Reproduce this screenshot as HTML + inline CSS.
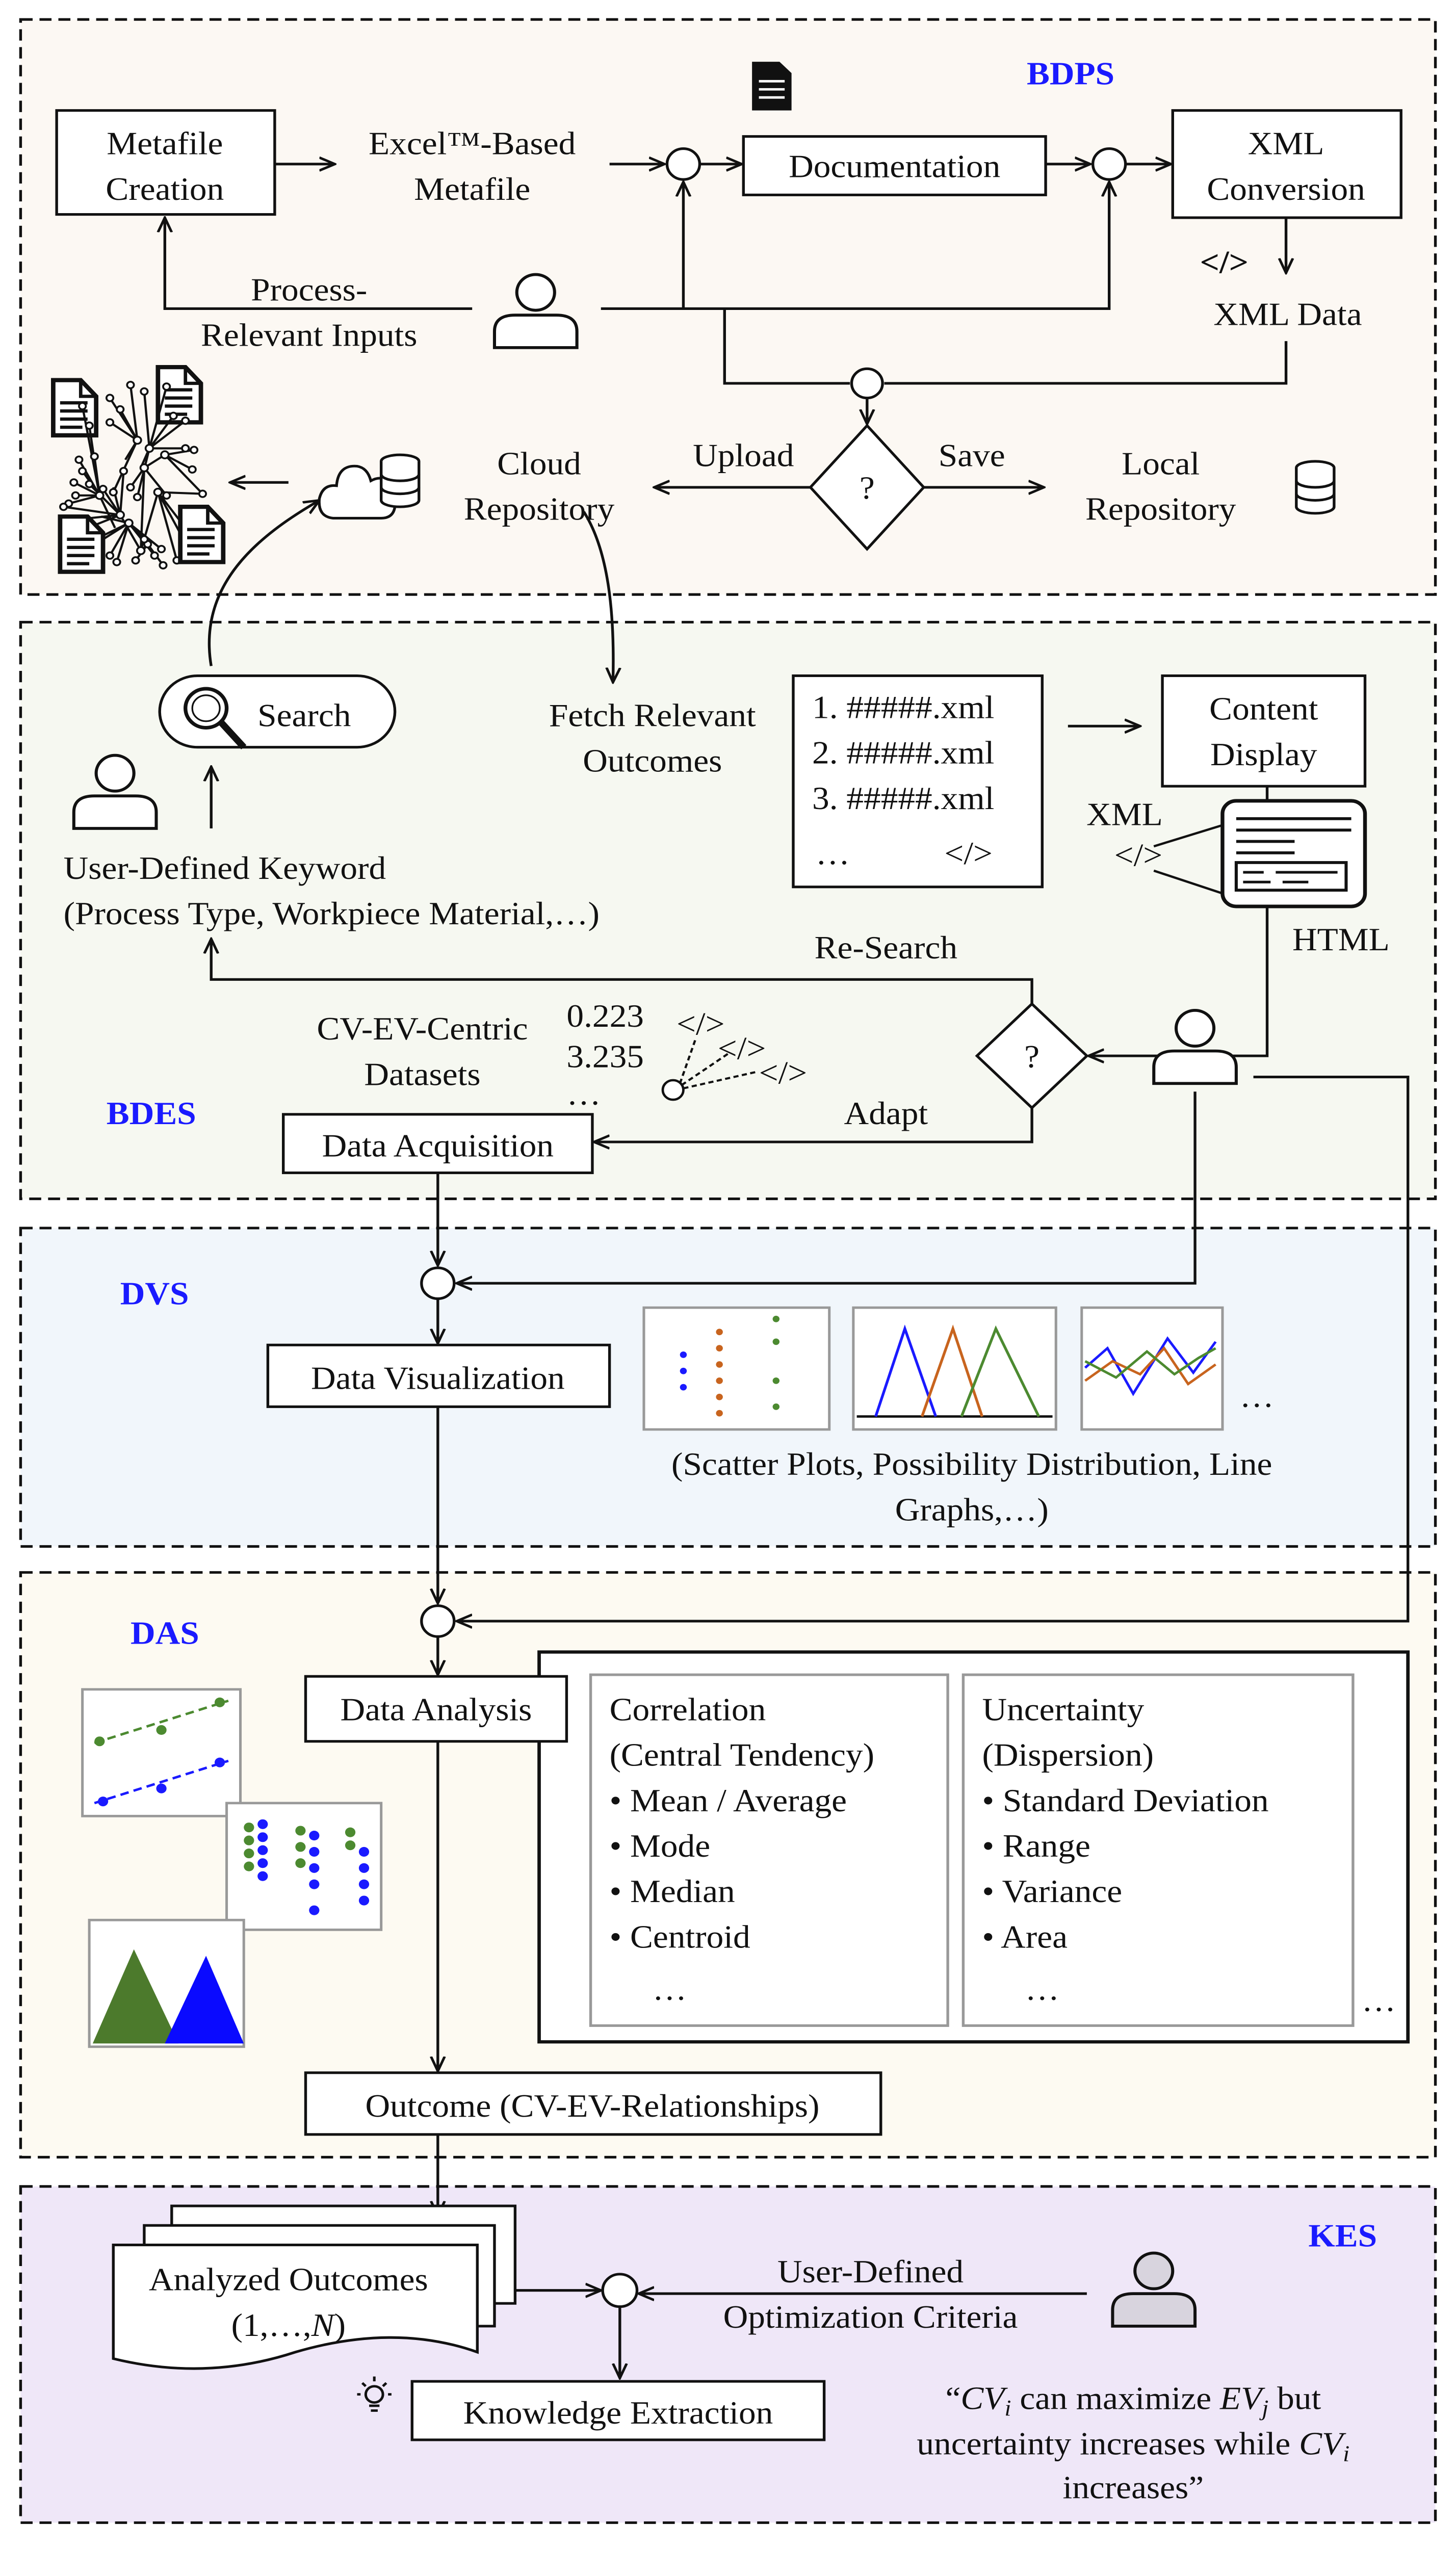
<!DOCTYPE html>
<html><head><meta charset="utf-8"><style>
html,body{margin:0;padding:0;background:#fff;overflow:hidden;}
#wrap{position:fixed;left:0;top:0;width:100%;height:100%;}
svg{display:block;width:100%;height:100%;}
text{font-family:"Liberation Serif",serif;font-size:20px;fill:#111;}
.c{text-anchor:middle;}
.t{font-weight:bold;fill:#1a1aff;font-size:20px;}
</style></head><body><div id="wrap">
<svg viewBox="0 0 848 1569.2" preserveAspectRatio="none" xmlns="http://www.w3.org/2000/svg">
<defs>
<marker id="a" markerWidth="10" markerHeight="10" refX="9" refY="5" orient="auto" markerUnits="userSpaceOnUse"><path d="M0,1 L9,5 L0,9" fill="none" stroke="#111" stroke-width="1.5"/></marker>
<g id="person"><circle cx="0" cy="-12" r="11" fill="#fff" stroke="#111" stroke-width="1.8"/><path d="M-24,22 L-24,12 Q-24,2 -12,2 L12,2 Q24,2 24,12 L24,22 Z" fill="#fff" stroke="#111" stroke-width="1.8"/></g>
<g id="db"><ellipse cx="0" cy="-12" rx="11" ry="4" fill="#fff" stroke="#111" stroke-width="1.6"/><path d="M-11,-12 V12 A11,4 0 0 0 11,12 V-12" fill="#fff" stroke="#111" stroke-width="1.6"/><path d="M-11,-4 A11,4 0 0 0 11,-4 M-11,4 A11,4 0 0 0 11,4" fill="none" stroke="#111" stroke-width="1.6"/></g>
<g id="doc"><path d="M0,0 H16 L25,10 V34 H0 Z" fill="#fff" stroke="#111" stroke-width="2.6"/><path d="M16,0 V10 H25" fill="none" stroke="#111" stroke-width="2"/><path d="M4,14 H20 M4,19 H20 M4,24 H20 M4,29 H17" stroke="#111" stroke-width="2"/></g>
</defs>
<g stroke="#111" stroke-width="1.6" fill="none">
<rect x="12" y="12" width="824" height="354" fill="#fcf8f3" stroke-dasharray="7,4"/>
<rect x="12" y="383" width="824" height="355" fill="#f6f8f1" stroke-dasharray="7,4"/>
<rect x="12" y="756" width="824" height="196" fill="#f1f6fb" stroke-dasharray="7,4"/>
<rect x="12" y="968" width="824" height="360" fill="#fdfaf2" stroke-dasharray="7,4"/>
<rect x="12" y="1346" width="824" height="207" fill="#efe7f8" stroke-dasharray="7,4"/>
</g>
<text class="t" x="598" y="52">BDPS</text>
<text class="t" x="62" y="692">BDES</text>
<text class="t" x="70" y="803">DVS</text>
<text class="t" x="76" y="1012">DAS</text>
<text class="t" x="762" y="1383">KES</text>

<g stroke="#111" stroke-width="1.6" fill="#fff">
<rect x="33" y="68" width="127" height="64"/>
<rect x="433" y="84" width="176" height="36"/>
<rect x="683" y="68" width="133" height="66"/>
<circle cx="398" cy="101" r="9.5"/>
<circle cx="646" cy="101" r="9.5"/>
<circle cx="505" cy="236" r="9"/>
<polygon points="505,262 538,300 505,338 472,300"/>
</g>
<g stroke="#111" stroke-width="1.6" fill="none" marker-end="url(#a)">
<path d="M160,101 H195"/>
<path d="M355,101 H387"/>
<path d="M408,101 H432"/>
<path d="M609,101 H635"/>
<path d="M656,101 H682"/>
<path d="M749,134 V168"/>
<path d="M275,190 H96 V134"/>
<path d="M350,190 H646 V112"/>
<path d="M398,190 V112"/>
<path d="M505,245 V261"/>
<path d="M472,300 H381"/>
<path d="M538,300 H608"/>
<path d="M168,297 H134"/>
<path d="M123,410 C115,360 150,330 186,308"/>
<path d="M340,315 C355,340 358,380 357,420"/>
</g>
<g stroke="#111" stroke-width="1.6" fill="none">
<path d="M422,190 V236 H495"/>
<path d="M749,210 V236 H515"/>
</g>
<text class="c" x="96" y="95">Metafile</text><text class="c" x="96" y="123">Creation</text>
<text class="c" x="275" y="95">Excel™-Based</text><text class="c" x="275" y="123">Metafile</text>
<text class="c" x="521" y="109">Documentation</text>
<text class="c" x="749" y="95">XML</text><text class="c" x="749" y="123">Conversion</text>
<text class="c" x="713" y="168" style="font-weight:bold">&lt;/&gt;</text>
<text class="c" x="750" y="200">XML Data</text>
<text class="c" x="180" y="185">Process-</text><text class="c" x="180" y="213">Relevant Inputs</text>
<text class="c" x="505" y="307">?</text>
<text class="c" x="433" y="287">Upload</text><text class="c" x="566" y="287">Save</text>
<text class="c" x="314" y="292">Cloud</text><text class="c" x="314" y="320">Repository</text>
<text class="c" x="676" y="292">Local</text><text class="c" x="676" y="320">Repository</text>
<use href="#person" x="312" y="192"/>
<use href="#db" x="766" y="300"/>
<path d="M194,319 Q185,318 186,307 Q188,298 196,299 Q197,286 208,287 Q214,288 216,296 Q223,292 228,298 Q232,305 230,312 Q229,319 222,319 Z" fill="#fff" stroke="#111" stroke-width="1.6"/>
<use href="#db" x="233" y="296"/>
<g><path d="M438,38 H454 L461,45 V68 H438 Z" fill="#111"/><path d="M442,50 H457 M442,55 H457 M442,60 H457" stroke="#fff" stroke-width="1.5"/></g>
<!-- network icon -->
<use href="#doc" x="31" y="234"/><use href="#doc" x="92" y="226"/>
<g stroke="#111" stroke-width="1.3" fill="none">
<path d="M80,271 L70,252 M80,271 L76,237 M80,271 L64,245 M80,271 L64,260 M80,271 L73,283 M80,271 L66,303"/>
<path d="M87,276 L84,241 M87,276 L97,238 M87,276 L101,256 M87,276 L108,259 M87,276 L108,276 M87,276 L82,288 M87,276 L80,306"/>
<path d="M58,305 L46,283 M58,305 L48,290 M58,305 L43,297 M58,305 L44,305 M58,305 L40,310 M58,305 L55,281 M58,305 L52,262 M58,305 L48,250 M58,305 L67,325"/>
<path d="M96,280 L113,277 M96,280 L112,289 M96,280 L84,288 M96,280 L118,304"/>
<path d="M84,288 L97,305 M84,288 L82,339 M84,288 L76,300"/>
<path d="M92,303 L118,304 M92,303 L112,342 M92,303 L103,345 M92,303 L108,325 M92,303 L82,339"/>
<path d="M70,317 L60,301 M70,317 L66,300 M70,317 L52,298 M70,317 L43,320 M70,317 L37,312 M70,317 L44,328 M70,317 L82,339 M70,317 L72,290"/>
<path d="M75,322 L57,334 M75,322 L64,342 M75,322 L68,346 M75,322 L84,332 M75,322 L90,342 M75,322 L94,338 M75,322 L40,340 M75,322 L59,318"/>
<path d="M86,335 L79,345 M86,335 L95,348 M86,335 L82,339"/>
</g>
<g fill="#fff" stroke="#111" stroke-width="1.1">
<circle cx="80" cy="271" r="2.2"/><circle cx="87" cy="276" r="2.2"/><circle cx="58" cy="305" r="2.2"/><circle cx="96" cy="280" r="2.2"/><circle cx="84" cy="288" r="2.2"/><circle cx="92" cy="303" r="2.2"/><circle cx="70" cy="317" r="2.2"/><circle cx="75" cy="322" r="2.2"/><circle cx="82" cy="339" r="2.2"/><circle cx="86" cy="335" r="2"/>
<circle cx="70" cy="252" r="2"/><circle cx="76" cy="237" r="2"/><circle cx="64" cy="245" r="2"/><circle cx="64" cy="260" r="2"/><circle cx="66" cy="303" r="2"/>
<circle cx="84" cy="241" r="2"/><circle cx="97" cy="238" r="2"/><circle cx="101" cy="256" r="2"/><circle cx="108" cy="259" r="2"/><circle cx="108" cy="276" r="2"/><circle cx="80" cy="306" r="2"/>
<circle cx="46" cy="283" r="2"/><circle cx="48" cy="290" r="2"/><circle cx="43" cy="297" r="2"/><circle cx="44" cy="305" r="2"/><circle cx="40" cy="310" r="2"/><circle cx="55" cy="281" r="2"/><circle cx="52" cy="262" r="2"/><circle cx="48" cy="250" r="2"/>
<circle cx="113" cy="277" r="2"/><circle cx="112" cy="289" r="2"/><circle cx="118" cy="304" r="2"/><circle cx="97" cy="305" r="2"/><circle cx="76" cy="300" r="2"/>
<circle cx="112" cy="342" r="2"/><circle cx="103" cy="345" r="2"/><circle cx="108" cy="325" r="2"/>
<circle cx="60" cy="301" r="2"/><circle cx="52" cy="298" r="2"/><circle cx="43" cy="320" r="2"/><circle cx="37" cy="312" r="2"/><circle cx="44" cy="328" r="2"/><circle cx="72" cy="290" r="2"/>
<circle cx="57" cy="334" r="2"/><circle cx="64" cy="342" r="2"/><circle cx="68" cy="346" r="2"/><circle cx="84" cy="332" r="2"/><circle cx="90" cy="342" r="2"/><circle cx="94" cy="338" r="2"/><circle cx="40" cy="340" r="2"/><circle cx="79" cy="345" r="2"/><circle cx="95" cy="348" r="2"/>
</g>
<use href="#doc" x="35" y="318"/><use href="#doc" x="105" y="312"/>

<!-- BDES -->
<use href="#person" x="67" y="488"/>
<rect x="93" y="416" width="137" height="44" rx="22" fill="#fff" stroke="#111" stroke-width="1.6"/>
<circle cx="120" cy="436" r="12" fill="#fff" stroke="#111" stroke-width="2.2"/><circle cx="120" cy="436" r="8" fill="none" stroke="#111" stroke-width="1"/>
<path d="M129,445 L142,460" stroke="#111" stroke-width="4"/>
<text x="150" y="447">Search</text>
<g stroke="#111" stroke-width="1.6" fill="none" marker-end="url(#a)">
<path d="M123,510 V472"/>
<path d="M622,447 H664"/>
<path d="M738,558 V650 H634"/>
<path d="M601,618 V603 H123 V578"/>
<path d="M601,682 V703 H346"/>
<path d="M255,722 V779"/>
<path d="M730,663 H820 V998 H266"/>
<path d="M696,672 V790 H266"/>
<path d="M255,800 V827"/>
<path d="M255,866 V987"/>
<path d="M255,1008 V1031"/>
<path d="M255,1072 V1275"/>
<path d="M255,1314 V1364"/>
<path d="M295,1410 H350"/>
<path d="M633,1412 H372"/>
<path d="M361,1420 V1464"/>
</g>
<path d="M738,484 V493" stroke="#111" stroke-width="1.6"/>
<text x="37" y="541">User-Defined Keyword</text>
<text x="37" y="569">(Process Type, Workpiece Material,…)</text>
<text class="c" x="380" y="447">Fetch Relevant</text><text class="c" x="380" y="475">Outcomes</text>
<rect x="462" y="416" width="145" height="130" fill="#fff" stroke="#111" stroke-width="1.6"/>
<text x="473" y="442">1. #####.xml</text><text x="473" y="470">2. #####.xml</text><text x="473" y="498">3. #####.xml</text>
<text x="475" y="532">…</text><text x="550" y="532">&lt;/&gt;</text>
<rect x="677" y="416" width="118" height="68" fill="#fff" stroke="#111" stroke-width="1.6"/>
<text class="c" x="736" y="443">Content</text><text class="c" x="736" y="471">Display</text>
<rect x="712" y="493" width="83" height="65" rx="8" fill="#fff" stroke="#111" stroke-width="2.2"/>
<path d="M720,504 H787 M720,511 H787 M720,518 H754 M720,525 H754" stroke="#111" stroke-width="1.8"/>
<rect x="720" y="531" width="64" height="17" fill="none" stroke="#111" stroke-width="1.8"/><path d="M724,537 H736 M743,537 H779 M724,543 H740 M747,543 H762" stroke="#111" stroke-width="1.6"/>
<path d="M672,521 L712,508 M672,536 L712,550" stroke="#111" stroke-width="1.4"/>
<text class="c" x="655" y="508">XML</text><text class="c" x="663" y="533">&lt;/&gt;</text>
<text class="c" x="781" y="585">HTML</text>
<polygon points="601,618 633,650 601,682 569,650" fill="#fff" stroke="#111" stroke-width="1.6"/>
<text class="c" x="601" y="657">?</text>
<text class="c" x="516" y="590">Re-Search</text><text class="c" x="516" y="692">Adapt</text>
<use href="#person" x="696" y="645"/>
<rect x="165" y="686" width="180" height="36" fill="#fff" stroke="#111" stroke-width="1.6"/>
<text class="c" x="255" y="712">Data Acquisition</text>
<text class="c" x="246" y="640">CV-EV-Centric</text><text class="c" x="246" y="668">Datasets</text>
<text x="330" y="632">0.223</text><text x="330" y="657">3.235</text><text x="330" y="680">…</text>
<text x="394" y="637">&lt;/&gt;</text><text x="418" y="652">&lt;/&gt;</text><text x="442" y="667">&lt;/&gt;</text>
<circle cx="392" cy="671" r="6" fill="#fff" stroke="#111" stroke-width="1.4"/>
<path d="M396,667 L405,640 M397,668 L425,648 M398,670 L440,660" stroke="#111" stroke-width="1.3" stroke-dasharray="3,2"/>

<!-- DVS -->
<circle cx="255" cy="790" r="9.5" fill="#fff" stroke="#111" stroke-width="1.6"/>
<rect x="156" y="828" width="199" height="38" fill="#fff" stroke="#111" stroke-width="1.6"/>
<text class="c" x="255" y="855">Data Visualization</text>
<rect x="375" y="805" width="108" height="75" fill="#fff" stroke="#999" stroke-width="1.5"/>
<g fill="#1a1aff"><circle cx="398" cy="834" r="2"/><circle cx="398" cy="844" r="2"/><circle cx="398" cy="854" r="2"/></g>
<g fill="#c8641e"><circle cx="419" cy="820" r="2"/><circle cx="419" cy="830" r="2"/><circle cx="419" cy="840" r="2"/><circle cx="419" cy="850" r="2"/><circle cx="419" cy="860" r="2"/><circle cx="419" cy="870" r="2"/></g>
<g fill="#4c8a30"><circle cx="452" cy="812" r="2"/><circle cx="452" cy="826" r="2"/><circle cx="452" cy="850" r="2"/><circle cx="452" cy="866" r="2"/></g>
<rect x="497" y="805" width="118" height="75" fill="#fff" stroke="#999" stroke-width="1.5"/>
<path d="M499,872 H613" stroke="#111" stroke-width="1.5"/>
<path d="M510,872 L527,818 L545,872" stroke="#1a1aff" stroke-width="1.6" fill="none"/>
<path d="M537,872 L555,818 L572,872" stroke="#c8641e" stroke-width="1.6" fill="none"/>
<path d="M560,872 L580,818 L605,872" stroke="#4c8a30" stroke-width="1.6" fill="none"/>
<rect x="630" y="805" width="82" height="75" fill="#fff" stroke="#999" stroke-width="1.5"/>
<path d="M632,842 L645,830 L660,858 L680,824 L695,845 L708,826" stroke="#1a1aff" stroke-width="1.5" fill="none"/>
<path d="M632,850 L648,838 L664,846 L678,830 L692,852 L708,840" stroke="#c8641e" stroke-width="1.5" fill="none"/>
<path d="M632,838 L650,848 L668,832 L684,846 L698,836 L708,830" stroke="#4c8a30" stroke-width="1.5" fill="none"/>
<text x="722" y="866">…</text>
<text class="c" x="566" y="908">(Scatter Plots, Possibility Distribution, Line</text>
<text class="c" x="566" y="936">Graphs,…)</text>

<!-- DAS -->
<circle cx="255" cy="998" r="9.5" fill="#fff" stroke="#111" stroke-width="1.6"/>
<rect x="314" y="1017" width="506" height="240" fill="#fff" stroke="#111" stroke-width="2"/>
<rect x="178" y="1032" width="152" height="40" fill="#fff" stroke="#111" stroke-width="1.6"/>
<text class="c" x="254" y="1059">Data Analysis</text>
<rect x="344" y="1031" width="208" height="216" fill="#fff" stroke="#999" stroke-width="1.6"/>
<rect x="561" y="1031" width="227" height="216" fill="#fff" stroke="#999" stroke-width="1.6"/>
<text x="355" y="1059">Correlation</text><text x="355" y="1087">(Central Tendency)</text>
<text x="355" y="1115">•  Mean / Average</text><text x="355" y="1143">•  Mode</text><text x="355" y="1171">•  Median</text><text x="355" y="1199">•  Centroid</text><text x="380" y="1231">…</text>
<text x="572" y="1059">Uncertainty</text><text x="572" y="1087">(Dispersion)</text>
<text x="572" y="1115">•  Standard Deviation</text><text x="572" y="1143">•  Range</text><text x="572" y="1171">•  Variance</text><text x="572" y="1199">•  Area</text><text x="597" y="1231">…</text>
<text x="793" y="1238">…</text>
<rect x="48" y="1040" width="92" height="78" fill="#fff" stroke="#999" stroke-width="1.5"/>
<path d="M55,1073 L133,1047" stroke="#4c8a30" stroke-width="1.5" stroke-dasharray="5,3"/>
<path d="M55,1110 L133,1084" stroke="#1a1aff" stroke-width="1.5" stroke-dasharray="5,3"/>
<g fill="#4c8a30"><circle cx="58" cy="1072" r="3"/><circle cx="94" cy="1065" r="3"/><circle cx="128" cy="1048" r="3"/></g>
<g fill="#1a1aff"><circle cx="60" cy="1109" r="3"/><circle cx="94" cy="1101" r="3"/><circle cx="128" cy="1085" r="3"/></g>
<rect x="132" y="1110" width="90" height="78" fill="#fff" stroke="#999" stroke-width="1.5"/>
<g fill="#4c8a30"><circle cx="145" cy="1125" r="3"/><circle cx="145" cy="1133" r="3"/><circle cx="145" cy="1141" r="3"/><circle cx="145" cy="1149" r="3"/><circle cx="175" cy="1127" r="3"/><circle cx="175" cy="1137" r="3"/><circle cx="175" cy="1147" r="3"/><circle cx="204" cy="1128" r="3"/><circle cx="204" cy="1136" r="3"/></g>
<g fill="#1a1aff"><circle cx="153" cy="1123" r="3"/><circle cx="153" cy="1131" r="3"/><circle cx="153" cy="1139" r="3"/><circle cx="153" cy="1147" r="3"/><circle cx="153" cy="1155" r="3"/><circle cx="183" cy="1130" r="3"/><circle cx="183" cy="1140" r="3"/><circle cx="183" cy="1150" r="3"/><circle cx="183" cy="1160" r="3"/><circle cx="183" cy="1176" r="3"/><circle cx="212" cy="1140" r="3"/><circle cx="212" cy="1150" r="3"/><circle cx="212" cy="1160" r="3"/><circle cx="212" cy="1170" r="3"/></g>
<rect x="52" y="1182" width="90" height="78" fill="#fff" stroke="#999" stroke-width="1.5"/>
<polygon points="54,1258 78,1200 104,1258" fill="#4c7a2c"/>
<polygon points="96,1258 120,1204 142,1258" fill="#0a0aff"/>
<rect x="178" y="1276" width="335" height="38" fill="#fff" stroke="#111" stroke-width="1.6"/>
<text class="c" x="345" y="1303">Outcome (CV-EV-Relationships)</text>

<!-- KES -->
<rect x="100" y="1358" width="200" height="60" fill="#fff" stroke="#111" stroke-width="1.6"/>
<rect x="84" y="1370" width="204" height="62" fill="#fff" stroke="#111" stroke-width="1.6"/>
<path d="M66,1382 H278 V1448 Q230,1430 172,1448 Q120,1466 66,1452 Z" fill="#fff" stroke="#111" stroke-width="1.6"/>
<text class="c" x="168" y="1410">Analyzed Outcomes</text>
<text class="c" x="168" y="1438">(1,…,<tspan font-style="italic">N</tspan>)</text>
<circle cx="361" cy="1410" r="10" fill="#fff" stroke="#111" stroke-width="1.6"/>
<text class="c" x="507" y="1405">User-Defined</text><text class="c" x="507" y="1433">Optimization Criteria</text>
<g transform="translate(672,1410)"><circle cx="0" cy="-12" r="11" fill="#d8d4de" stroke="#111" stroke-width="1.8"/><path d="M-24,22 L-24,12 Q-24,2 -12,2 L12,2 Q24,2 24,12 L24,22 Z" fill="#d8d4de" stroke="#111" stroke-width="1.8"/></g>
<rect x="240" y="1466" width="240" height="36" fill="#fff" stroke="#111" stroke-width="1.6"/>
<text class="c" x="360" y="1492">Knowledge Extraction</text>
<g stroke="#111" stroke-width="1.5" fill="none"><circle cx="218" cy="1474" r="5"/><path d="M215,1481 H221 M216,1484 H220 M218,1463 V1466 M208,1474 H210 M226,1474 H228 M211,1467 L213,1469 M225,1467 L223,1469"/></g>
<text class="c" x="660" y="1483">“<tspan font-style="italic">CV<tspan font-size="14" dy="4">i</tspan></tspan><tspan dy="-4"> can maximize </tspan><tspan font-style="italic">EV<tspan font-size="14" dy="4">j</tspan></tspan><tspan dy="-4"> but</tspan></text>
<text class="c" x="660" y="1511">uncertainty increases while <tspan font-style="italic">CV<tspan font-size="14" dy="4">i</tspan></tspan></text>
<text class="c" x="660" y="1538">increases”</text>
</svg>
</div></body></html>
